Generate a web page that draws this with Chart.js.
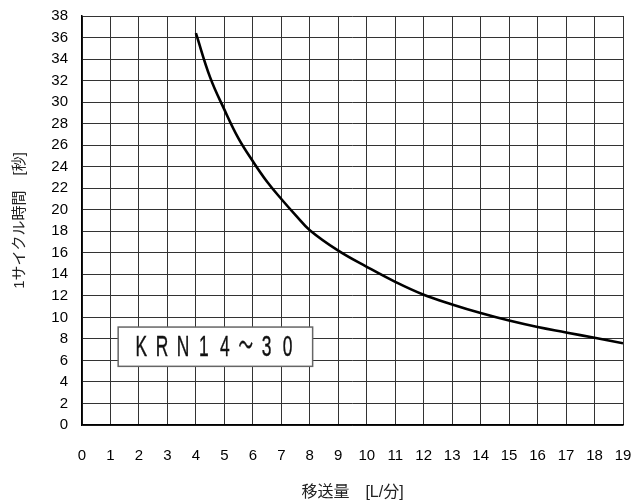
<!DOCTYPE html>
<html>
<head>
<meta charset="utf-8">
<script src="https://cdn.jsdelivr.net/npm/chart.js@4"></script>
<style>
  html, body { margin: 0; padding: 0; background: #fff; }
  #wrap { width: 634px; height: 502px; position: relative; }
</style>
</head>
<body>
<div id="wrap"><canvas id="cycleChart"></canvas></div>
<script>
// flow rate [L/min] and cycle time [s]
const flowRates = [4, 4.5, 5, 5.5, 6, 6.5, 7, 7.5, 8, 9, 10, 11, 12, 13, 14, 15, 16, 17, 18, 19];
const cycleTimes = [36.4, 32.3, 29.3, 26.6, 24.5, 22.6, 21.0, 19.5, 18.1, 16.2, 14.7, 13.3, 12.1, 11.2, 10.4, 9.7, 9.1, 8.6, 8.1, 7.6];
const modelLabel = ['K', 'R', 'N', '1', '4', '～', '3', '0'];
const xTitle = '移送量　[L/分]';
const yTitle = '1サイクル時間　[秒]';

const baseFont = "'Liberation Sans', Arial, 'Noto Sans CJK JP', sans-serif";

let chartCanvas;

const labelBoxPlugin = {
    id: 'labelBox',
    afterDraw: (chart) => {
        const ctx = chart.ctx;
        const xs = chart.scales.x;
        const ys = chart.scales.y;
        const left = xs.getPixelForValue(1.27);
        const right = xs.getPixelForValue(8.1);
        const top = ys.getPixelForValue(9.1);
        const bottom = ys.getPixelForValue(5.45);
        ctx.save();
        ctx.fillStyle = '#fff';
        ctx.fillRect(left, top, right - left, bottom - top);
        ctx.strokeStyle = '#666';
        ctx.lineWidth = 1.5;
        ctx.strokeRect(left, top, right - left, bottom - top);
        ctx.fillStyle = '#111';
        ctx.strokeStyle = '#111';
        ctx.lineWidth = 0.4;
        ctx.font = "29px 'Liberation Sans', 'Noto Sans CJK JP', sans-serif";
        ctx.textAlign = 'center';
        ctx.textBaseline = 'alphabetic';
        const step = 20.9;
        const start = (left + right) / 2 - step * (modelLabel.length - 1) / 2 - 1;
        modelLabel.forEach((ch, i) => {
            ctx.save();
            ctx.translate(start + i * step, bottom - 10.5);
            ctx.scale(ch === '～' ? 0.5 : 0.6, 1);
            ctx.fillText(ch, 0, 0);
            ctx.strokeText(ch, 0, 0);
            ctx.restore();
        });
        ctx.restore();
    }
};

const drawChart = () => {
    chartCanvas = document.querySelector('#cycleChart');
    const ctx = chartCanvas.getContext('2d');
    new Chart(ctx, {
        type: 'line',
        data: {
            datasets: [{
                data: flowRates.map((x, i) => ({ x: x, y: cycleTimes[i] })),
                borderColor: '#000',
                borderWidth: 2.6,
                pointRadius: 0,
                tension: 0.4,
                fill: false
            }]
        },
        options: {
            responsive: true,
            maintainAspectRatio: false,
            animation: false,
            layout: { padding: { left: 0, right: 11, top: 16, bottom: 0 } },
            plugins: {
                legend: { display: false },
                tooltip: { enabled: false }
            },
            scales: {
                x: {
                    type: 'linear',
                    min: 0,
                    max: 19,
                    afterFit: (scale) => {
                        scale.height = 77;
                        scale.paddingLeft = 0;
                        scale.paddingRight = 0;
                    },
                    ticks: {
                        stepSize: 1,
                        padding: 22,
                        color: '#000',
                        font: { family: baseFont, size: 15 }
                    },
                    grid: { color: '#333', lineWidth: 1, drawTicks: false },
                    border: { color: '#000', width: 1.5 },
                    title: {
                        display: true,
                        text: xTitle,
                        color: '#222',
                        font: { family: baseFont, size: 16 },
                        padding: { top: 0, bottom: 0 }
                    }
                },
                y: {
                    min: 0,
                    max: 38,
                    afterFit: (scale) => {
                        scale.width = 82;
                        scale.paddingTop = 0;
                        scale.paddingBottom = 0;
                    },
                    ticks: {
                        stepSize: 2,
                        padding: 14,
                        color: '#000',
                        font: { family: baseFont, size: 15 }
                    },
                    grid: { color: '#333', lineWidth: 1, drawTicks: false },
                    border: { color: '#000', width: 1.5 },
                    title: {
                        display: true,
                        text: yTitle,
                        color: '#222',
                        font: { family: baseFont, size: 15 },
                        padding: { top: 11, bottom: 0 }
                    }
                }
            }
        },
        plugins: [labelBoxPlugin]
    });
}

window.addEventListener('DOMContentLoaded', drawChart);
</script>
</body>
</html>
